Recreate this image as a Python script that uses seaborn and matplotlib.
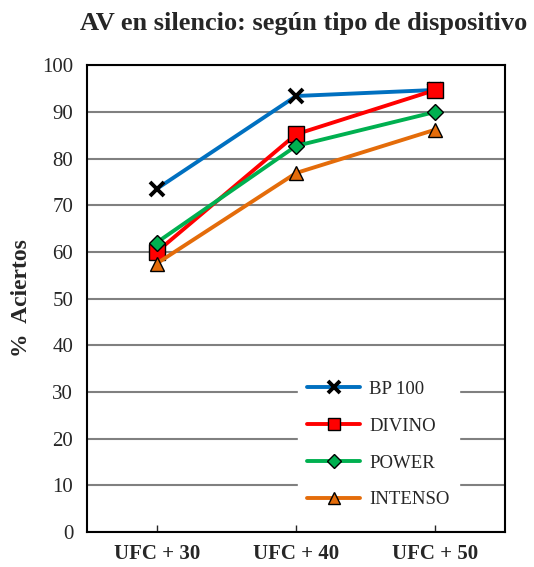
import pandas as pd
import seaborn as sns
import matplotlib.pyplot as plt

# Data
categories = ['UFC + 30', 'UFC + 40', 'UFC + 50']
bp100 = [73.5, 93.4, 94.7]
divino = [60.0, 85.2, 94.7]
power = [62.0, 82.7, 90.0]
intenso = [57.5, 76.9, 86.2]

series = {'BP 100': bp100, 'DIVINO': divino, 'POWER': power, 'INTENSO': intenso}
rows = []
for name, vals in series.items():
    for i, v in enumerate(vals):
        rows.append({'pos': i, 'serie': name, 'valor': v})
df = pd.DataFrame(rows)

sns.set_style('white')
plt.rcParams['font.family'] = ['Liberation Serif', 'DejaVu Serif']

styles = {
    'BP 100': dict(color='#0070C0', marker='x', ms=9.5, mfc='black', mew=2.8),
    'DIVINO': dict(color='#FF0000', marker='s', ms=11, mfc='#FF0000', mew=1),
    'POWER': dict(color='#00B050', marker='D', ms=8, mfc='#00B050', mew=1),
    'INTENSO': dict(color='#E46C0A', marker='^', ms=10, mfc='#E46C0A', mew=1),
}

fig = plt.figure(figsize=(5.34, 5.67), dpi=100)
ax = fig.add_axes([0.163, 0.062, 0.783, 0.823])

for name in series:
    st = styles[name]
    sub = df[df['serie'] == name]
    sns.lineplot(data=sub, x='pos', y='valor', ax=ax, label=name,
                 color=st['color'], linewidth=2.8, marker=st['marker'],
                 markersize=st['ms'], markeredgecolor='black',
                 markeredgewidth=st['mew'], markerfacecolor=st['mfc'],
                 zorder=3)

ax.set_xlim(-0.5, 2.5)
ax.set_ylim(0, 100)
ax.set_yticks(range(0, 101, 10))
ax.set_xticks(range(len(categories)))
ax.set_xticklabels(categories, fontweight='bold', fontsize=15)
ax.tick_params(axis='y', labelsize=15, length=0, pad=10)
ax.tick_params(axis='x', length=5, width=1, direction='in', pad=9, bottom=True)
ax.yaxis.grid(True, color='#808080', linewidth=1.5, zorder=0)
for sp in ax.spines.values():
    sp.set_color('black')
    sp.set_linewidth(1.5)

ax.set_xlabel('')
ax.set_ylabel('%  Aciertos', fontweight='bold', fontsize=17, labelpad=7)
ax.set_title('AV en silencio: según tipo de dispositivo', fontweight='bold',
             fontsize=19, pad=25, x=0.517)

leg = ax.legend(loc='lower right', bbox_to_anchor=(0.912, 0.01), frameon=True,
                fontsize=13.5, handlelength=2.8, handletextpad=0.5,
                labelspacing=1.05, borderpad=0.5, markerscale=0.85)
leg.get_frame().set_edgecolor('white')
leg.get_frame().set_facecolor('white')
leg.get_frame().set_alpha(1)
leg.get_frame().set_boxstyle('square', pad=0)

plt.savefig('out.png', dpi=100)
